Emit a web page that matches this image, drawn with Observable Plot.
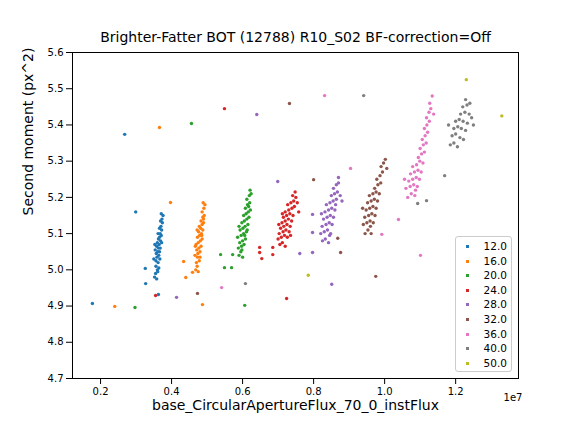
<!DOCTYPE html>
<html>
<head>
<meta charset="utf-8">
<script src="https://cdn.jsdelivr.net/npm/d3@7"></script>
<script src="https://cdn.jsdelivr.net/npm/@observablehq/plot@0.6"></script>
<style>
  body { margin: 0; background: white; font-family: "DejaVu Sans", sans-serif; }
  #wrap { position: relative; width: 576px; height: 432px; }
  #legend { position: absolute; left: 455px; top: 236px; width: 57px; height: 136px;
    border: 1px solid #ccc; border-radius: 3px; background: rgba(255,255,255,0.8);
    font-size: 10.5px; padding-top: 2px; box-sizing: border-box; }
  #legend div { height: 14.6px; line-height: 14.6px; position: relative; }
  #legend span.m { position: absolute; left: 10px; top: 6px; width: 3px; height: 3px; }
  #legend span.t { position: absolute; right: 4px; }
</style>
</head>
<body>
<div id="wrap"><div id="chart"></div><div id="legend"></div></div>
<script>
const labels = ["12.0","16.0","20.0","24.0","28.0","32.0","36.0","40.0","50.0"]
const colors = ["#1f77b4","#ff7f0e","#2ca02c","#d62728","#9467bd","#8c564b","#e377c2","#7f7f7f","#bcbd22"]
const xTicks = [0.2,0.4,0.6,0.8,1.0,1.2]
const yTicks = [4.7,4.8,4.9,5.0,5.1,5.2,5.3,5.4,5.5,5.6]

// x in units of 1e7
const s12 = [[0.352,4.98],[0.355,4.99],[0.358,4.975],[0.360,5.00],[0.356,5.01],[0.362,5.02],[0.350,5.03],[0.359,5.035],[0.364,5.04],[0.357,5.045],[0.361,5.05],[0.366,5.05],[0.354,5.055],[0.363,5.06],[0.368,5.06],[0.358,5.065],[0.365,5.07],[0.360,5.075],[0.369,5.08],[0.363,5.085],[0.366,5.09],[0.371,5.095],[0.362,5.10],[0.368,5.10],[0.372,5.11],[0.366,5.115],[0.370,5.12],[0.374,5.13],[0.369,5.135],[0.373,5.14],[0.376,5.15],[0.371,5.155],[0.356,5.025],[0.361,4.995],[0.367,5.03],[0.353,5.07],[0.372,5.075],[0.364,5.005],
  [0.268,5.374],[0.299,5.16],[0.177,4.907],[0.326,5.004],[0.327,4.962],[0.363,4.932]]
const s16 = [[0.468,5.00],[0.472,5.01],[0.475,4.995],[0.470,5.02],[0.478,5.025],[0.466,5.04],[0.474,5.045],[0.480,5.05],[0.471,5.055],[0.477,5.06],[0.483,5.065],[0.469,5.07],[0.475,5.075],[0.481,5.08],[0.486,5.085],[0.473,5.09],[0.479,5.095],[0.484,5.10],[0.476,5.105],[0.488,5.11],[0.482,5.115],[0.478,5.12],[0.486,5.125],[0.490,5.13],[0.483,5.135],[0.488,5.145],[0.492,5.15],[0.486,5.16],[0.491,5.17],[0.494,5.18],[0.489,5.185],[0.473,5.035],[0.480,5.035],[0.467,5.065],[0.485,5.095],[0.472,5.11],[0.490,5.14],
  [0.366,5.393],[0.397,5.186],[0.240,4.899],[0.487,4.904],[0.434,5.023],[0.440,4.979],[0.459,4.993]]
const s20 = [[0.590,5.04],[0.595,5.05],[0.600,5.035],[0.588,5.06],[0.597,5.065],[0.604,5.07],[0.592,5.075],[0.600,5.08],[0.608,5.085],[0.586,5.09],[0.596,5.095],[0.603,5.10],[0.611,5.105],[0.593,5.11],[0.601,5.115],[0.607,5.12],[0.615,5.125],[0.598,5.13],[0.605,5.135],[0.612,5.14],[0.618,5.145],[0.603,5.15],[0.610,5.155],[0.616,5.16],[0.622,5.165],[0.608,5.17],[0.614,5.18],[0.620,5.185],[0.612,5.195],[0.619,5.205],[0.624,5.21],[0.621,5.22],[0.598,5.055],[0.606,5.095],[0.590,5.12],[0.613,5.11],[0.617,5.175],
  [0.456,5.404],[0.297,4.896],[0.606,4.902],[0.538,5.042],[0.549,5.006],[0.569,5.006],[0.572,5.042]]
const s24 = [[0.705,5.07],[0.712,5.075],[0.720,5.065],[0.700,5.085],[0.709,5.09],[0.718,5.095],[0.726,5.09],[0.703,5.10],[0.714,5.105],[0.722,5.11],[0.731,5.105],[0.707,5.115],[0.716,5.12],[0.725,5.125],[0.734,5.12],[0.711,5.13],[0.720,5.135],[0.729,5.14],[0.738,5.135],[0.715,5.145],[0.724,5.15],[0.733,5.155],[0.742,5.15],[0.720,5.16],[0.730,5.165],[0.739,5.17],[0.746,5.175],[0.727,5.18],[0.736,5.185],[0.744,5.19],[0.750,5.2],[0.741,5.205],[0.748,5.215],[0.754,5.185],[0.758,5.16],[0.702,5.125],[0.735,5.095],[0.712,5.155],
  [0.549,5.445],[0.355,4.929],[0.724,4.921],[0.648,5.062],[0.648,5.048],[0.654,5.031],[0.685,5.042],[0.685,5.062]]
const s28 = [[0.825,5.08],[0.833,5.085],[0.842,5.075],[0.820,5.10],[0.830,5.105],[0.839,5.11],[0.848,5.10],[0.824,5.12],[0.835,5.125],[0.844,5.13],[0.852,5.125],[0.828,5.14],[0.838,5.145],[0.847,5.15],[0.856,5.145],[0.832,5.16],[0.842,5.165],[0.851,5.17],[0.860,5.165],[0.836,5.18],[0.846,5.185],[0.855,5.19],[0.864,5.195],[0.850,5.205],[0.859,5.21],[0.867,5.215],[0.856,5.225],[0.864,5.235],[0.870,5.24],[0.875,5.205],[0.880,5.19],[0.870,5.255],[0.822,5.155],[0.845,5.095],[0.862,5.18],
  [0.640,5.429],[0.414,4.924],[0.851,4.960],[0.699,5.244],[0.761,5.045],[0.797,5.048],[0.797,5.103],[0.797,5.153]]
const s32 = [[0.945,5.10],[0.953,5.11],[0.962,5.10],[0.940,5.125],[0.950,5.13],[0.959,5.135],[0.968,5.13],[0.944,5.145],[0.955,5.15],[0.964,5.155],[0.973,5.15],[0.948,5.165],[0.958,5.17],[0.967,5.175],[0.976,5.17],[0.952,5.185],[0.962,5.19],[0.971,5.195],[0.980,5.19],[0.957,5.205],[0.967,5.21],[0.976,5.215],[0.985,5.21],[0.972,5.225],[0.981,5.235],[0.989,5.24],[0.978,5.25],[0.987,5.26],[0.994,5.27],[0.990,5.285],[0.997,5.295],[1.002,5.305],[1.006,5.28],[0.938,5.17],[0.960,5.12],
  [0.732,5.459],[0.473,4.935],[0.975,4.982],[0.800,5.249],[0.876,5.048],[0.868,5.087]]
const s36 = [[1.065,5.20],[1.075,5.21],[1.085,5.205],[1.060,5.225],[1.072,5.23],[1.082,5.235],[1.092,5.23],[1.068,5.245],[1.079,5.25],[1.089,5.255],[1.098,5.25],[1.073,5.265],[1.084,5.27],[1.094,5.275],[1.103,5.27],[1.079,5.285],[1.090,5.29],[1.099,5.3],[1.108,5.295],[1.095,5.31],[1.104,5.32],[1.112,5.325],[1.100,5.335],[1.109,5.345],[1.117,5.35],[1.106,5.36],[1.114,5.37],[1.121,5.38],[1.112,5.39],[1.119,5.40],[1.126,5.41],[1.118,5.42],[1.125,5.435],[1.130,5.445],[1.127,5.46],[1.134,5.48],[1.138,5.43],[1.056,5.25],[1.087,5.22],
  [0.831,5.481],[0.541,4.951],[1.039,5.139],[1.101,5.040],[0.904,5.280],[0.992,5.098]]
const s40 = [[1.185,5.345],[1.195,5.35],[1.205,5.34],[1.190,5.37],[1.200,5.375],[1.212,5.365],[1.222,5.36],[1.195,5.39],[1.206,5.395],[1.216,5.39],[1.228,5.385],[1.200,5.41],[1.210,5.415],[1.221,5.41],[1.233,5.405],[1.214,5.43],[1.226,5.435],[1.238,5.43],[1.220,5.45],[1.232,5.455],[1.228,5.47],[1.240,5.46],[1.245,5.42],[1.250,5.40],[1.180,5.40],
  [0.941,5.481],[0.608,4.962],[1.093,5.183],[1.118,5.191],[1.169,5.260]]
const s50 = [[1.230,5.525],[1.330,5.425],[0.785,4.985]]

const series = [s12,s16,s20,s24,s28,s32,s36,s40,s50]
const data = series.flatMap((pts, i) => pts.map(([x, y]) => ({x, y, g: labels[i]})))

const chart = Plot.plot({
  width: 576,
  height: 432,
  marginLeft: 72,
  marginRight: 58,
  marginTop: 52,
  marginBottom: 54,
  style: {fontSize: 10, fontFamily: "DejaVu Sans"},
  x: {domain: [0.121, 1.377], ticks: xTicks, tickFormat: d3.format(".1f"), label: null},
  y: {domain: [4.7, 5.6], ticks: yTicks, tickFormat: d3.format(".1f"), label: null},
  color: {domain: labels, range: colors},
  marks: [
    Plot.frame(),
    Plot.dot(data, {x: "x", y: "y", fill: "g", r: 1.7}),
    Plot.text(["Brighter-Fatter BOT (12788) R10_S02 BF-correction=Off"], {frameAnchor: "top", dy: -11, lineAnchor: "bottom", fontSize: 14}),
    Plot.text(["base_CircularApertureFlux_70_0_instFlux"], {frameAnchor: "bottom", dy: 27, lineAnchor: "middle", fontSize: 14}),
    Plot.text(["Second moment (px^2)"], {frameAnchor: "left", dx: -44, rotate: -90, fontSize: 14}),
    Plot.text(["1e7"], {frameAnchor: "bottom-right", dy: 22, dx: 4, fontSize: 10})
  ]
})
d3.select("#chart").append(() => chart)

const lg = d3.select("#legend")
labels.forEach((l, i) => {
  const row = lg.append("div")
  row.append("span").attr("class", "m").style("background", colors[i])
  row.append("span").attr("class", "t").text(l)
})
</script>
</body>
</html>
